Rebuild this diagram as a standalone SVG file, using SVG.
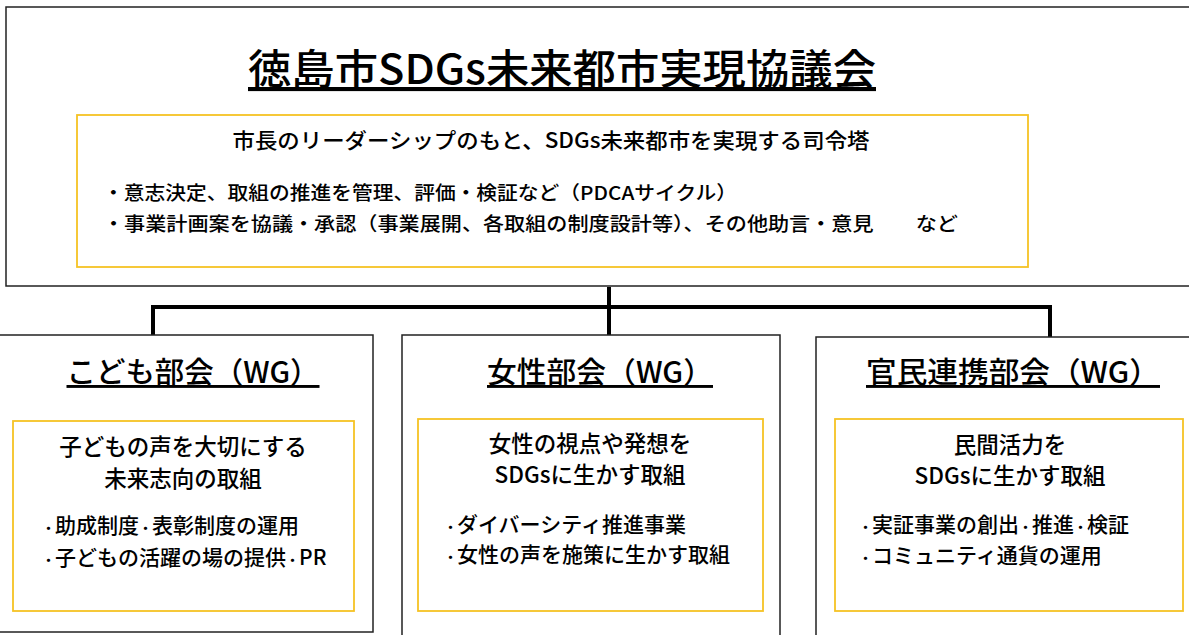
<svg xmlns="http://www.w3.org/2000/svg" width="1189" height="635" viewBox="0 0 1189 635">
<style>
text{font-family:"Noto Sans CJK JP","Noto Sans",sans-serif;fill:#000;font-weight:500;}
.frame{fill:#fff;stroke:#222;stroke-width:1.5;}
.inner{fill:none;stroke:#f6c324;stroke-width:1.8;}
.title{font-size:41px;text-decoration:underline;}
.wg{font-size:29px;text-decoration:underline;}
.sub{font-size:21px;}
.bul{font-size:19px;}
.lead{font-size:22.5px;}
.item{font-size:21px;}
.d{font-size:13px;font-weight:bold;}
.conn{fill:none;stroke:#000;stroke-width:4;}
</style>
<rect width="1189" height="635" fill="#fff"/>
<g id="council">
<rect class="frame" x="6" y="7" width="1200" height="279"/>
<text class="title" x="562" y="84" text-anchor="middle" textLength="628" lengthAdjust="spacingAndGlyphs">徳島市SDGs未来都市実現協議会</text>
<rect class="inner" x="77" y="115" width="951" height="152"/>
<text class="sub" x="551" y="148" text-anchor="middle" textLength="637" lengthAdjust="spacingAndGlyphs">市長のリーダーシップのもと、SDGs未来都市を実現する司令塔</text>
<text class="bul" x="103" y="200" textLength="634" lengthAdjust="spacingAndGlyphs">・意志決定、取組の推進を管理、評価・検証など（PDCAサイクル）</text>
<text class="bul" x="103" y="231" textLength="855" lengthAdjust="spacingAndGlyphs">・事業計画案を協議・承認（事業展開、各取組の制度設計等）、その他助言・意見　　など</text>
</g>
<g id="connectors">
<path class="conn" d="M609 287 V335 M153 335 V307 H1050 V337"/>
</g>
<g id="kodomo">
<rect class="frame" x="-5" y="335" width="378" height="297"/>
<text class="wg" x="193" y="383" text-anchor="middle" textLength="253" lengthAdjust="spacingAndGlyphs">こども部会（WG）</text>
<rect class="inner" x="13" y="421" width="341" height="190"/>
<text class="lead" x="183" y="455" text-anchor="middle">子どもの声を大切にする</text>
<text class="lead" x="183" y="487" text-anchor="middle">未来志向の取組</text>
<text class="item" x="42" y="533"><tspan class="d">・</tspan>助成制度<tspan class="d">・</tspan>表彰制度の運用</text>
<text class="item" x="42" y="565"><tspan class="d">・</tspan>子どもの活躍の場の提供<tspan class="d">・</tspan>PR</text>
</g>
<g id="josei">
<rect class="frame" x="402" y="335" width="378" height="310"/>
<text class="wg" x="600" y="383" text-anchor="middle" textLength="226" lengthAdjust="spacingAndGlyphs">女性部会（WG）</text>
<rect class="inner" x="418" y="419" width="345" height="192"/>
<text class="lead" x="590" y="452" text-anchor="middle">女性の視点や発想を</text>
<text class="lead" x="590" y="483" text-anchor="middle">SDGsに生かす取組</text>
<text class="item" x="444" y="532"><tspan class="d">・</tspan>ダイバーシティ推進事業</text>
<text class="item" x="444" y="562"><tspan class="d">・</tspan>女性の声を施策に生かす取組</text>
</g>
<g id="kanmin">
<rect class="frame" x="816" y="337" width="400" height="310"/>
<text class="wg" x="1013" y="383" text-anchor="middle" textLength="294" lengthAdjust="spacingAndGlyphs">官民連携部会（WG）</text>
<rect class="inner" x="835" y="419" width="348" height="192"/>
<text class="lead" x="1010" y="453" text-anchor="middle">民間活力を</text>
<text class="lead" x="1010" y="484" text-anchor="middle">SDGsに生かす取組</text>
<text class="item" x="859" y="532"><tspan class="d">・</tspan>実証事業の創出<tspan class="d">・</tspan>推進<tspan class="d">・</tspan>検証</text>
<text class="item" x="859" y="563"><tspan class="d">・</tspan>コミュニティ通貨の運用</text>
</g>
</svg>
